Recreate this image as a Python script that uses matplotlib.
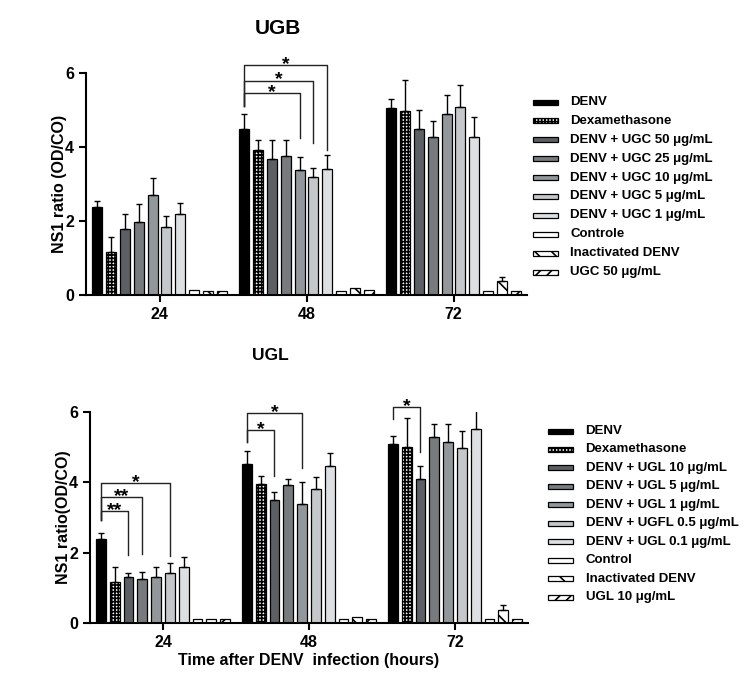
import matplotlib
matplotlib.use("Agg")
import matplotlib.pyplot as plt
from matplotlib.patches import Rectangle

plt.rcParams['font.family'] = ['Liberation Sans', 'DejaVu Sans']
plt.rcParams['font.weight'] = 'bold'
plt.rcParams['hatch.linewidth'] = 1.2

# ---------------- data ----------------
times = ['24', '48', '72']

ugb_labels = ['DENV', 'Dexamethasone', 'DENV + UGC 50 μg/mL', 'DENV + UGC 25 μg/mL',
              'DENV + UGC 10 μg/mL', 'DENV + UGC 5 μg/mL', 'DENV + UGC 1 μg/mL',
              'Controle', 'Inactivated DENV', 'UGC 50 μg/mL']
ugb_24 = [2.37, 1.16, 1.78, 1.96, 2.69, 1.84, 2.18, 0.13, 0.12, 0.12]
ugb_24_err = [0.17, 0.41, 0.40, 0.49, 0.48, 0.29, 0.30, 0.0, 0.0, 0.0]
ugb_48 = [4.50, 3.92, 3.68, 3.76, 3.38, 3.18, 3.41, 0.12, 0.19, 0.13]
ugb_48_err = [0.38, 0.26, 0.51, 0.42, 0.36, 0.24, 0.37, 0.0, 0.0, 0.0]
ugb_72 = [5.05, 4.96, 4.48, 4.28, 4.90, 5.09, 4.27, 0.12, 0.38, 0.12]
ugb_72_err = [0.24, 0.84, 0.51, 0.41, 0.50, 0.59, 0.54, 0.0, 0.12, 0.0]

ugl_labels = ['DENV', 'Dexamethasone', 'DENV + UGL 10 μg/mL', 'DENV + UGL 5 μg/mL',
              'DENV + UGL 1 μg/mL', 'DENV + UGFL 0.5 μg/mL', 'DENV + UGL 0.1 μg/mL',
              'Control', 'Inactivated DENV', 'UGL 10 μg/mL']
ugl_24 = [2.40, 1.18, 1.30, 1.25, 1.30, 1.43, 1.59, 0.13, 0.12, 0.12]
ugl_24_err = [0.15, 0.41, 0.12, 0.21, 0.29, 0.27, 0.30, 0.0, 0.0, 0.0]
ugl_48 = [4.51, 3.94, 3.49, 3.91, 3.38, 3.80, 4.47, 0.12, 0.18, 0.12]
ugl_48_err = [0.38, 0.24, 0.22, 0.18, 0.64, 0.36, 0.35, 0.0, 0.0, 0.0]
ugl_72 = [5.08, 4.99, 4.09, 5.28, 5.13, 4.98, 5.52, 0.12, 0.38, 0.12]
ugl_72_err = [0.23, 0.83, 0.36, 0.37, 0.52, 0.47, 0.53, 0.0, 0.15, 0.0]

# significance brackets: (time index, bar i, bar j, level, left foot, right foot, text)
ugb_sig = [(1, 0, 4, 5.45, 5.10, 4.24, '*'),
           (1, 0, 5, 5.79, 5.10, 4.10, '*'),
           (1, 0, 6, 6.22, 5.10, 3.92, '*')]
ugl_sig = [(0, 0, 2, 3.18, 2.93, 1.95, '**'),
           (0, 0, 3, 3.57, 2.93, 1.97, '**'),
           (0, 0, 5, 3.98, 2.93, 1.90, '*'),
           (1, 0, 2, 5.48, 5.14, 4.18, '*'),
           (1, 0, 4, 5.95, 5.14, 4.39, '*'),
           (2, 0, 2, 6.12, 5.79, 4.86, '*')]

# ---------------- styles ----------------
face = ['#000000', '#ffffff', '#5c6064', '#777b7e', '#92979b', '#c4c8cb', '#dde0e2',
        '#ffffff', '#ffffff', '#ffffff']
hatch = [None, '+++++', None, None, None, None, None, None, '\\\\', '///']

pitch = 13.9 / 147.0
width = 10.0 / 147.0

W, H = 750, 679
fig = plt.figure(figsize=(W / 100, H / 100), dpi=100)


def fx(px):
    return px / W


def fy(py):
    return 1 - py / H


ax1 = fig.add_axes([fx(86), fy(295), 441 / W, 222 / H])
ax2 = fig.add_axes([fx(90), fy(623.3), 438 / W, 211.6 / H])


def draw_panel(ax, vals, errs, sig):
    for g, (v, e) in enumerate(zip(vals, errs)):
        for i in range(10):
            x = g + (i - 4.5) * pitch
            ax.bar(x, v[i], width=width, color=face[i], edgecolor='black',
                   linewidth=0.9, hatch=hatch[i], zorder=2)
            if e[i] > 0:
                ax.errorbar(x, v[i], yerr=[[0], [e[i]]], fmt='none', ecolor='black',
                            elinewidth=1.0, capsize=2.5, capthick=1.0, zorder=3)
    for (g, i, j, lev, lf, rf, txt) in sig:
        xi = g + (i - 4.5) * pitch
        xj = g + (j - 4.5) * pitch
        ax.plot([xi, xi, xj, xj], [lf, lev, lev, rf], color='#222222', lw=1.0,
                clip_on=False, zorder=4)
        ax.annotate(txt, ((xi + xj) / 2, lev), xytext=(0, 0.5), textcoords='offset points',
                    ha='center', va='center', fontsize=14, fontweight='bold',
                    annotation_clip=False)
    ax.set_xlim(-0.5, 2.5)
    ax.set_ylim(0, 6)
    ax.set_xticks([0, 1, 2])
    ax.set_xticklabels(times)
    ax.set_yticks([0, 2, 4, 6])
    for s in ['top', 'right']:
        ax.spines[s].set_visible(False)
    for s in ['left', 'bottom']:
        ax.spines[s].set_linewidth(1.5)
    ax.tick_params(axis='both', which='major', length=5, width=1.5, labelsize=11.5,
                   direction='out')
    for lab in ax.get_xticklabels() + ax.get_yticklabels():
        lab.set_fontweight('bold')


draw_panel(ax1, [ugb_24, ugb_48, ugb_72], [ugb_24_err, ugb_48_err, ugb_72_err], ugb_sig)
draw_panel(ax2, [ugl_24, ugl_48, ugl_72], [ugl_24_err, ugl_48_err, ugl_72_err], ugl_sig)

ax1.set_ylabel('NS1 ratio (OD/CO)', fontsize=11.5, fontweight='bold', labelpad=-1)
ax2.set_ylabel('NS1 ratio(OD/CO)', fontsize=11.5, fontweight='bold', labelpad=-1)
ax2.set_xlabel('Time after DENV  infection (hours)', fontsize=11.5, fontweight='bold',
               labelpad=2)

fig.text(fx(278), fy(28), 'UGB', ha='center', va='center', fontsize=15, fontweight='bold')
fig.text(fx(270), fy(355), 'UGL', ha='center', va='center', fontsize=12.5, fontweight='bold')


def draw_legend(labels, x0, y0, y1, tx):
    n = len(labels)
    for k, lab in enumerate(labels):
        y = y0 + (y1 - y0) * k / (n - 1)
        r = Rectangle((fx(x0), fy(y + 2.5)), 24.5 / W, 5 / H, transform=fig.transFigure,
                      facecolor=face[k], edgecolor='black', linewidth=0.9, hatch=hatch[k])
        fig.add_artist(r)
        fig.text(fx(tx), fy(y), lab, ha='left', va='center', fontsize=9.5,
                 fontweight='bold')


draw_legend(ugb_labels, 533, 102, 272, 570.5)
draw_legend(ugl_labels, 548, 431, 597, 585.5)

fig.savefig('out.png', dpi=100, facecolor='white')
